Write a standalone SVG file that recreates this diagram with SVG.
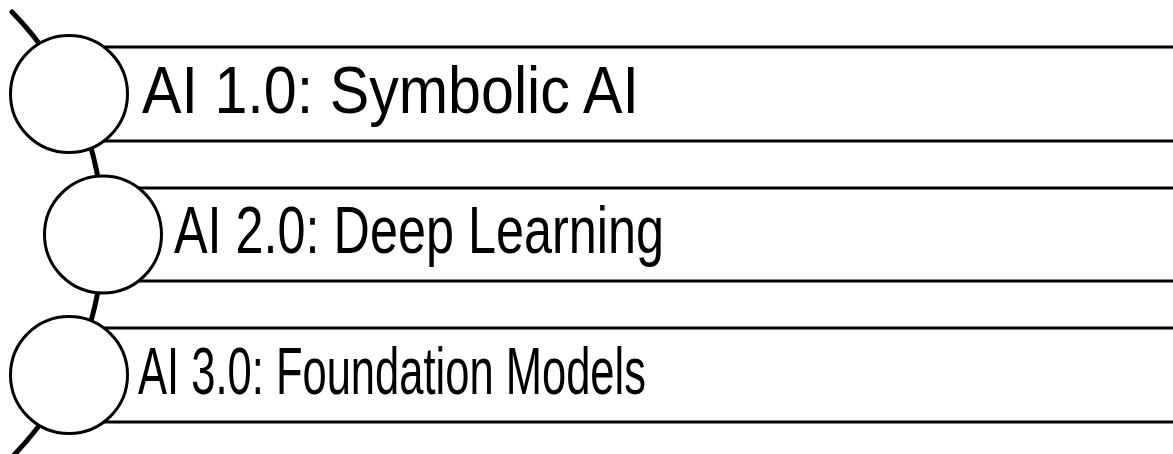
<svg xmlns="http://www.w3.org/2000/svg" width="1173" height="454" viewBox="0 0 1173 454">
<style>
.bar{fill:#fff;stroke:#000;stroke-width:3}
.dot{fill:#fff;stroke:#000;stroke-width:3}
.lbl{font-family:"Liberation Sans",Arial,sans-serif;font-size:66px;fill:#000}
.arc{fill:none;stroke:#000;stroke-width:5;stroke-linecap:round}
</style>
<rect width="1173" height="454" fill="#fff"/>
<g id="connectors">
<path class="arc" d="M 12 12 A 317.5 317.5 0 0 1 13 456"/>
</g>
<g id="node1">
<rect class="bar" x="69" y="47" width="1120" height="94"/>
<circle class="dot" cx="69" cy="94" r="58.5"/>
<text class="lbl" x="142" y="113" textLength="497" lengthAdjust="spacingAndGlyphs">AI 1.0: Symbolic AI</text>
</g>
<g id="node2">
<rect class="bar" x="103" y="188" width="1090" height="93"/>
<circle class="dot" cx="103" cy="234.5" r="58.5"/>
<text class="lbl" x="174" y="253" textLength="490" lengthAdjust="spacingAndGlyphs">AI 2.0: Deep Learning</text>
</g>
<g id="node3">
<rect class="bar" x="69" y="328" width="1120" height="94"/>
<circle class="dot" cx="69" cy="375" r="58.5"/>
<text class="lbl" x="138" y="394" textLength="508" lengthAdjust="spacingAndGlyphs">AI 3.0: Foundation Models</text>
</g>
</svg>
